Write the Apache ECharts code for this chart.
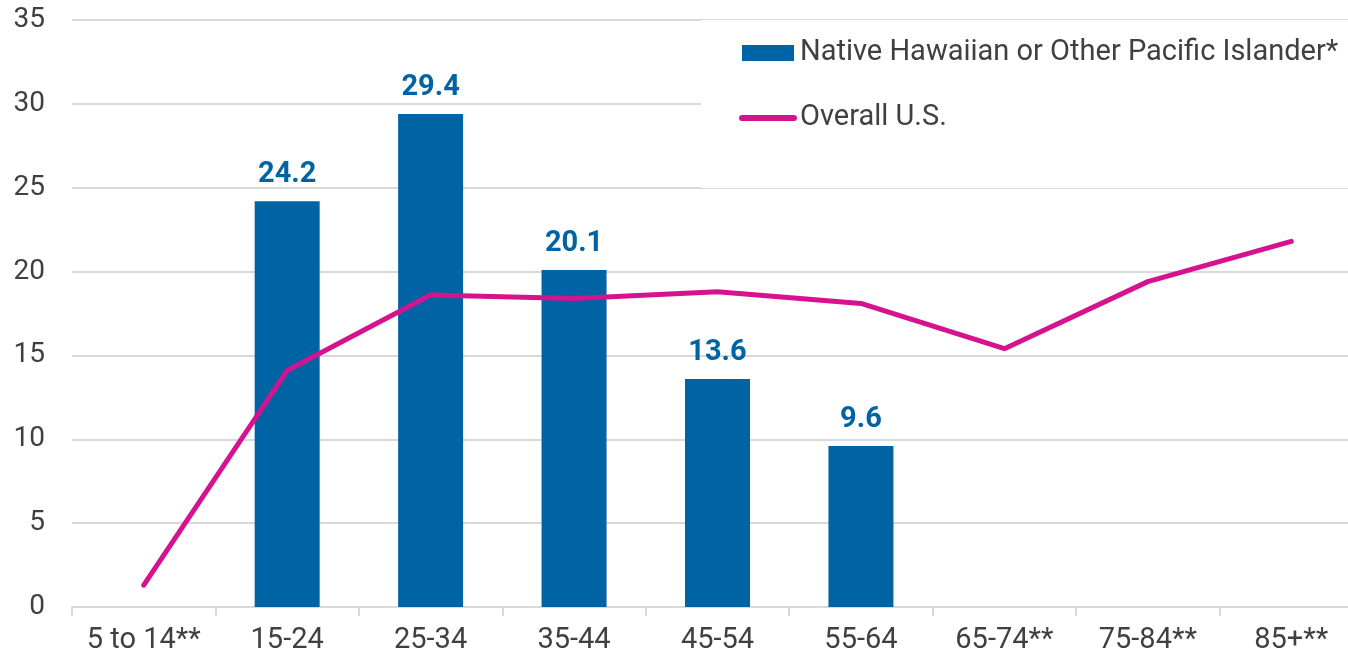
<!DOCTYPE html>
<html>
<head>
<meta charset="utf-8">
<script src="https://cdn.jsdelivr.net/npm/echarts@6/dist/echarts.min.js"></script>
<style>
  html, body { margin: 0; padding: 0; background: #fff; }
  #chart { width: 1348px; height: 659px; }
</style>
</head>
<body>
<div id="chart"></div>
<script>
// Age groups on the category axis
const ageGroups = ['5 to 14**', '15-24', '25-34', '35-44', '45-54', '55-64', '65-74**', '75-84**', '85+**'];
// Rates for Native Hawaiian or Other Pacific Islander (no value where data is suppressed)
const nhpiRates = [null, 24.2, 29.4, 20.1, 13.6, 9.6, null, null, null];
// Rates for the overall U.S. population
const overallRates = [1.3, 14.1, 18.6, 18.4, 18.8, 18.1, 15.4, 19.4, 21.8];
// Value axis range and step
const yMin = 0, yMax = 35, yStep = 5;

const BLUE = '#0064A4';
const MAGENTA = '#D5138F';
const TEXT = '#404040';
const GRID = '#D9D9D9';
const FONT = 'Roboto, "Noto Sans", sans-serif';

const chart = echarts.init(document.getElementById('chart'));
chart.setOption({
  animation: false,
  backgroundColor: '#fff',
  textStyle: { fontFamily: FONT },
  // plot area runs a little past the right edge of the canvas
  grid: { left: 72, right: -15, top: 20, bottom: 52, containLabel: false, outerBoundsMode: 'none' },
  legend: {
    orient: 'vertical',
    left: 701,
    top: 20,
    backgroundColor: '#fff',
    padding: [18, 30, 55, 38],
    itemGap: 35,
    itemWidth: 52,
    itemHeight: 16,
    textStyle: { fontFamily: FONT, fontSize: 29, color: TEXT, lineHeight: 30, padding: [0, 0, 0, 1] },
    data: [
      { name: 'Native Hawaiian or Other Pacific Islander*', icon: 'rect' },
      {
        name: 'Overall U.S.',
        itemStyle: { opacity: 0 },
        lineStyle: { width: 6, cap: 'round', color: MAGENTA }
      }
    ]
  },
  xAxis: {
    type: 'category',
    data: ageGroups,
    boundaryGap: true,
    axisLine: { show: true, lineStyle: { color: GRID, width: 2 } },
    axisTick: { show: true, length: 9, lineStyle: { color: GRID, width: 2 } },
    axisLabel: { color: TEXT, fontSize: 29, fontFamily: FONT, margin: 19, interval: 0 },
    splitLine: { show: false }
  },
  yAxis: {
    type: 'value',
    min: yMin,
    max: yMax,
    interval: yStep,
    axisLine: { show: false },
    axisTick: { show: false },
    axisLabel: { color: TEXT, fontSize: 28, fontFamily: FONT, margin: 27 },
    splitLine: { lineStyle: { color: GRID, width: 2 } }
  },
  series: [
    {
      name: 'Native Hawaiian or Other Pacific Islander*',
      type: 'bar',
      data: nhpiRates,
      barWidth: 65,
      itemStyle: { color: BLUE },
      label: {
        show: true,
        position: 'top',
        distance: 12,
        color: BLUE,
        fontSize: 29,
        fontWeight: 'bold',
        fontFamily: FONT,
        formatter: p => p.value == null ? '' : p.value.toFixed(1)
      },
      z: 2
    },
    {
      name: 'Overall U.S.',
      type: 'line',
      data: overallRates,
      symbol: 'none',
      lineStyle: { color: MAGENTA, width: 5, cap: 'round', join: 'round' },
      itemStyle: { color: MAGENTA },
      z: 3
    }
  ]
});
</script>
</body>
</html>
